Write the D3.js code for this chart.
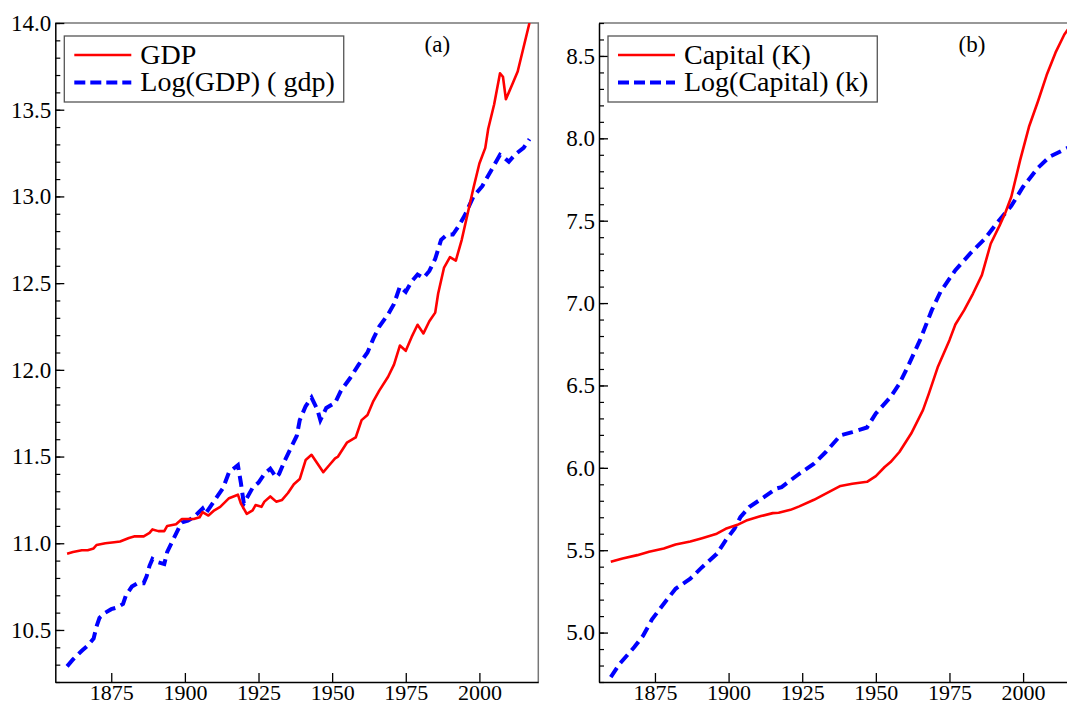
<html>
<script src='https://d3js.org/d3.v7.min.js'></script>
<style>
  body { margin: 0; background: white; }
  text { font-family: 'Liberation Serif', 'Times New Roman', serif; fill: black; }
</style>
<body onload='init()'>
<svg width=1067 height=705></svg>
<script>
// x axis ticks (shared)
var yearTicks = [1875, 1900, 1925, 1950, 1975, 2000];

// panel (a): GDP and its log transform
var gdpYears  = [1860,1862,1865,1867,1869,1870,1873,1876,1878,1881,1883,1886,1888,1889,1891,1893,1894,1897,1899,1901,1903,1905,1906,1908,1910,1912,1915,1918,1919,1921,1923,1924,1926,1927,1929,1931,1933,1935,1937,1939,1941,1943,1945,1947,1949,1951,1952,1955,1958,1960,1962,1964,1966,1969,1971,1973,1975,1977,1979,1981,1983,1985,1986,1988,1990,1992,1994,1996,1998,2000,2002,2003,2005,2007,2008,2009,2011,2013,2015,2017];
var gdpValues = [10.94,10.95,10.96,10.96,10.97,10.99,11.00,11.006,11.01,11.03,11.04,11.04,11.06,11.08,11.07,11.07,11.10,11.11,11.14,11.14,11.14,11.15,11.18,11.16,11.19,11.21,11.26,11.28,11.23,11.17,11.19,11.22,11.21,11.24,11.27,11.24,11.25,11.29,11.34,11.37,11.48,11.51,11.46,11.41,11.45,11.49,11.50,11.58,11.61,11.71,11.74,11.82,11.88,11.96,12.03,12.14,12.11,12.19,12.26,12.21,12.28,12.33,12.44,12.59,12.65,12.63,12.75,12.90,13.05,13.19,13.28,13.39,13.53,13.71,13.69,13.56,13.64,13.72,13.86,14.00];

var lgdpYears  = [1860,1862,1865,1867,1869,1870,1871,1873,1875,1877,1879,1880,1882,1884,1886,1887,1888,1889,1891,1893,1894,1896,1898,1899,1901,1903,1906,1907,1909,1911,1913,1915,1918,1919,1920,1923,1925,1927,1929,1931,1932,1934,1936,1938,1939,1941,1943,1945,1946,1948,1951,1953,1956,1959,1962,1964,1966,1969,1971,1973,1975,1977,1979,1981,1983,1985,1987,1989,1991,1993,1995,1998,2001,2004,2007,2008,2010,2012,2015,2017];
var lgdpValues = [10.29,10.33,10.38,10.41,10.45,10.52,10.57,10.60,10.62,10.63,10.65,10.70,10.75,10.77,10.77,10.81,10.87,10.91,10.89,10.88,10.95,11.02,11.09,11.12,11.13,11.15,11.20,11.17,11.22,11.27,11.32,11.41,11.45,11.35,11.23,11.32,11.35,11.40,11.43,11.38,11.40,11.48,11.55,11.62,11.71,11.79,11.84,11.77,11.71,11.78,11.81,11.88,11.95,12.03,12.10,12.18,12.25,12.32,12.38,12.48,12.45,12.51,12.55,12.53,12.57,12.64,12.75,12.78,12.78,12.83,12.89,13.00,13.06,13.15,13.24,13.23,13.20,13.24,13.28,13.33];

// panel (b): capital and its log transform
var capYears  = [1860,1864,1869,1873,1878,1882,1887,1891,1896,1899,1903,1906,1911,1915,1917,1921,1924,1929,1933,1938,1942,1947,1950,1953,1955,1958,1962,1966,1968,1971,1975,1977,1980,1983,1986,1989,1992,1994,1996,1999,2002,2005,2008,2011,2014,2016];
var capValues = [5.43,5.45,5.47,5.49,5.51,5.535,5.553,5.573,5.60,5.63,5.654,5.68,5.707,5.725,5.727,5.745,5.766,5.806,5.843,5.89,5.903,5.915,5.95,6.005,6.035,6.096,6.208,6.35,6.45,6.61,6.775,6.87,6.957,7.058,7.17,7.36,7.47,7.55,7.645,7.868,8.07,8.222,8.384,8.52,8.63,8.68];

var lcapYears  = [1860,1863,1868,1871,1874,1878,1882,1887,1891,1896,1899,1902,1904,1907,1912,1916,1918,1921,1924,1929,1933,1938,1942,1947,1950,1952,1955,1958,1961,1965,1969,1972,1977,1982,1987,1991,1996,2000,2005,2009,2016];
var lcapValues = [4.73,4.81,4.912,4.982,5.08,5.175,5.266,5.327,5.397,5.478,5.56,5.63,5.70,5.762,5.822,5.873,5.883,5.924,5.964,6.025,6.096,6.197,6.217,6.245,6.33,6.37,6.43,6.51,6.62,6.775,6.957,7.07,7.2,7.30,7.39,7.483,7.59,7.706,7.82,7.888,7.95];

var gdpLabels = ["GDP", "Log(GDP) ( gdp)"];
var capLabels = ["Capital (K)", "Log(Capital) (k)"];

function pairs(xs, ys) {
  return xs.map(function (d, i) { return [d, ys[i]]; });
}

function init() {
  var svg = d3.select("svg");

  drawPanel(svg, {
    id: "a", left: 55.3, yDomain: [10.2, 14.0],
    yTicks: [10.5, 11.0, 11.5, 12.0, 12.5, 13.0, 13.5, 14.0],
    red: pairs(gdpYears, gdpValues), blue: pairs(lgdpYears, lgdpValues),
    labels: gdpLabels, tag: "(a)", tagX: 382
  });
  drawPanel(svg, {
    id: "b", left: 599, yDomain: [4.70, 8.70],
    yTicks: [5.0, 5.5, 6.0, 6.5, 7.0, 7.5, 8.0, 8.5],
    red: pairs(capYears, capValues), blue: pairs(lcapYears, lcapValues),
    labels: capLabels, tag: "(b)", tagX: 373
  });
}

function drawPanel(svg, p) {
  var top = 23, w = 483, h = 659;
  var x = d3.scaleLinear().domain([1856, 2020]).range([0, w]);
  var y = d3.scaleLinear().domain(p.yDomain).range([h, 0]);

  var g = svg.append("g").attr("transform", "translate(" + p.left + "," + top + ")");

  g.append("clipPath").attr("id", "clip" + p.id)
    .append("rect").attr("width", w).attr("height", h);

  // top and right frame (grey)
  g.append("path")
    .attr("d", "M0,0H" + w + "V" + h)
    .attr("fill", "none").attr("stroke", "#777").attr("stroke-width", 1.5);

  // minor y ticks every 0.1
  var minor = d3.range(Math.ceil(p.yDomain[0] * 10), Math.floor(p.yDomain[1] * 10) + 1)
    .map(function (d) { return d / 10; });
  g.append("g")
    .call(d3.axisLeft(y).tickValues(minor).tickSize(-5).tickSizeOuter(0).tickFormat(""))
    .call(function (a) { a.select(".domain").remove(); })
    .selectAll("line").attr("stroke-width", 1.2);

  // y axis
  var ya = g.append("g")
    .call(d3.axisLeft(y).tickValues(p.yTicks).tickSize(-9).tickSizeOuter(0)
      .tickPadding(4).tickFormat(d3.format(".1f")));
  ya.select(".domain").attr("stroke-width", 1.5);
  ya.selectAll("line").attr("stroke-width", 1.3);
  ya.selectAll("text").style("font-size", "23px").style("font-family", "Liberation Serif");

  // x axis
  var xa = g.append("g")
    .attr("transform", "translate(0," + h + ")")
    .call(d3.axisBottom(x).tickValues(yearTicks).tickSize(-9).tickSizeOuter(0)
      .tickPadding(2).tickFormat(d3.format("d")));
  xa.select(".domain").attr("stroke-width", 1.5);
  xa.selectAll("line").attr("stroke-width", 1.3);
  xa.selectAll("text").style("font-size", "22px").style("font-family", "Liberation Serif");

  var line = d3.line()
    .x(function (d) { return x(d[0]); })
    .y(function (d) { return y(d[1]); });

  var lines = g.append("g").attr("clip-path", "url(#clip" + p.id + ")");
  lines.append("path").datum(p.blue)
    .attr("d", line).attr("fill", "none")
    .attr("stroke", "#0000ff").attr("stroke-width", 4)
    .attr("stroke-dasharray", "11,6");
  lines.append("path").datum(p.red)
    .attr("d", line).attr("fill", "none")
    .attr("stroke", "#ff0000").attr("stroke-width", 2.6)
    .attr("stroke-linejoin", "round");

  // panel tag
  g.append("text")
    .attr("x", p.tagX).attr("y", 29)
    .attr("text-anchor", "middle")
    .style("font-size", "23px")
    .text(p.tag);

  // legend
  var lg = g.append("g").attr("transform", "translate(9,13)");
  var box = lg.append("rect")
    .attr("width", 270).attr("height", 66)
    .attr("fill", "white").attr("stroke", "#555").attr("stroke-width", 1.3);
  lg.append("line").attr("x1", 10).attr("x2", 67).attr("y1", 19).attr("y2", 19)
    .attr("stroke", "#ff0000").attr("stroke-width", 2.6);
  lg.append("line").attr("x1", 10).attr("x2", 67).attr("y1", 46.5).attr("y2", 46.5)
    .attr("stroke", "#0000ff").attr("stroke-width", 4).attr("stroke-dasharray", "11,5");
  var maxLen = 0;
  p.labels.forEach(function (t, i) {
    var tx = lg.append("text")
      .attr("x", 76).attr("y", 27.5 + i * 27.5)
      .style("font-size", "28px")
      .text(t);
    maxLen = Math.max(maxLen, tx.node().getComputedTextLength());
  });
  box.attr("width", 76 + maxLen + 9);
}
</script>
</body>
</html>
